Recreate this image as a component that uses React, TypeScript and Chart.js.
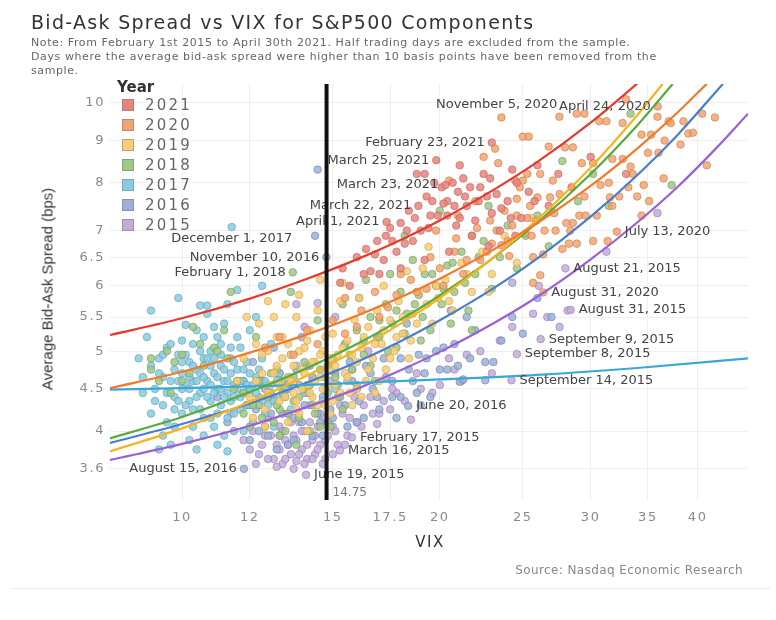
import React, { useEffect, useRef } from 'react';
import { Chart, registerables } from 'chart.js';

Chart.register(...registerables);

// Años en el orden de la leyenda
const years = ['2021', '2020', '2019', '2018', '2017', '2016', '2015'];
const pointColors = [
  'rgba(232,132,124,0.85)',
  'rgba(242,164,112,0.85)',
  'rgba(249,205,118,0.85)',
  'rgba(160,200,134,0.85)',
  'rgba(137,204,225,0.85)',
  'rgba(156,177,215,0.85)',
  'rgba(195,173,221,0.85)',
];
const pointBorders = [
  'rgba(190,95,88,0.75)',
  'rgba(200,120,70,0.75)',
  'rgba(205,160,70,0.75)',
  'rgba(110,150,90,0.75)',
  'rgba(90,155,180,0.75)',
  'rgba(105,125,170,0.75)',
  'rgba(145,120,175,0.75)',
];
const swatchColors = ['#e8847c', '#f2a470', '#f9cd76', '#a0c886', '#89cce1', '#9cb1d7', '#c3addd'];
const lineColors = ['#e43b2f', '#f27a2b', '#f7b41f', '#58aa3a', '#3aa8d6', '#4a7dcc', '#9b5fd6'];

const xTicks = [10, 12, 15, 17.5, 20, 25, 30, 35, 40];
const yTicks = [3.6, 4, 4.5, 5, 5.5, 6, 6.5, 7, 8, 9, 10];

// VIX, spread (bps)
const pts2021 = [
  [15.3, 6.05], [15.4, 6.3], [15.7, 6.0], [16.0, 6.5], [16.3, 6.2], [16.4, 6.65], [16.6, 6.25], [16.9, 6.8],
  [17.0, 6.2], [17.2, 6.45], [17.33, 7.17], [17.3, 6.9], [17.5, 7.05], [17.8, 6.6], [18.0, 7.15], [18.2, 6.75],
  [18.4, 7.4], [18.6, 6.8], [18.8, 8.2], [18.88, 7.5], [19.0, 7.0], [19.2, 8.2], [19.3, 7.7], [19.5, 7.3],
  [19.6, 7.6], [19.81, 8.52], [19.9, 7.3], [20.1, 7.9], [20.3, 7.95], [20.4, 7.6], [20.4, 7.3], [20.7, 8.0],
  [20.8, 7.5], [21.0, 7.8], [21.1, 7.25], [21.3, 8.1], [21.5, 7.5], [21.7, 7.9], [22.0, 7.2], [22.2, 7.6],
  [22.5, 8.2], [22.7, 7.7], [23.0, 8.95], [23.0, 7.35], [23.3, 7.75], [23.5, 7.0], [24.0, 7.6], [24.2, 7.25],
  [24.6, 8.0], [24.9, 7.25], [25.4, 7.8], [26.0, 8.4], [26.8, 7.5], [27.5, 8.2], [28.5, 7.9], [30.0, 8.6],
  [33.0, 8.2], [21.8, 6.9], [20.5, 6.6], [19.2, 6.45], [18.0, 6.3], [22.8, 6.7], [24.5, 6.9],
  [16.8, 6.55], [17.6, 6.8], [18.3, 7.0], [18.7, 7.25], [19.4, 7.05], [19.7, 8.0], [20.2, 7.55], [20.9, 7.1],
  [21.4, 7.7], [22.3, 7.9], [23.6, 7.45], [24.3, 8.3], [25.8, 7.6], [22.9, 8.1], [21.1, 8.4],
];
const pts2020 = [
  [12.5, 5.05], [13.0, 5.2], [13.5, 4.95], [14.0, 5.3], [14.4, 5.1], [15.0, 5.45], [15.5, 5.25], [16.2, 5.6],
  [17.0, 5.5], [17.8, 5.85], [18.5, 6.1], [19.3, 5.95], [20.0, 6.3], [20.5, 8.05], [20.8, 6.6], [21.3, 6.2],
  [21.8, 6.9], [22.3, 6.45], [22.5, 8.6], [22.9, 7.2], [23.0, 6.75], [23.2, 8.8], [23.4, 8.45], [23.6, 9.6],
  [23.6, 6.72], [23.8, 7.4], [24.1, 6.52], [24.3, 7.1], [24.5, 8.05], [24.6, 7.65], [25.0, 9.1], [25.0, 8.05],
  [25.2, 6.95], [25.3, 7.25], [25.3, 8.2], [25.4, 9.1], [25.6, 6.9], [25.7, 6.5], [25.7, 6.05], [25.9, 7.2],
  [26.0, 7.68], [26.2, 8.2], [26.2, 6.18], [26.41, 5.89], [26.4, 6.55], [26.8, 8.85], [26.9, 7.68], [27.1, 8.05],
  [27.3, 7.0], [27.58, 9.62], [27.8, 6.65], [28.0, 8.83], [28.1, 7.15], [28.3, 6.75], [28.6, 8.83], [28.6, 7.15],
  [28.9, 9.7], [28.9, 6.75], [29.1, 7.3], [29.3, 8.45], [29.5, 9.7], [29.6, 7.3], [30.2, 8.45], [30.2, 6.8],
  [30.7, 9.5], [31.3, 9.5], [31.4, 6.8], [31.6, 7.68], [31.8, 7.5], [31.8, 8.55], [32.19, 6.98], [32.4, 7.7],
  [32.7, 9.45], [32.7, 8.55], [33.4, 8.37], [33.6, 8.2], [34.0, 7.7], [34.4, 9.15], [34.4, 7.3], [34.6, 7.95],
  [35.0, 8.7], [35.1, 7.6], [35.3, 9.15], [35.93, 9.9], [35.9, 9.62], [36.0, 8.7], [37.0, 9.5], [37.2, 9.45],
  [39.0, 9.18], [39.5, 9.2], [40.5, 9.7], [41.0, 8.4], [41.9, 9.6], [22.0, 7.6], [21.0, 7.3], [19.8, 7.0],
  [30.8, 7.95], [27.6, 7.75], [24.8, 7.9], [33.0, 10.1], [38.2, 8.9], [36.5, 8.1],
  [15.5, 5.8], [16.0, 5.35], [16.8, 5.9], [17.4, 5.65], [18.0, 6.2], [18.8, 5.9], [19.5, 6.5], [20.2, 6.0],
  [20.9, 6.85], [21.5, 6.45], [22.1, 7.05], [22.7, 6.6], [23.3, 7.0], [24.0, 6.8], [24.6, 7.3], [25.5, 7.5],
  [26.5, 7.0], [27.2, 7.35], [28.4, 7.0], [29.5, 7.7], [30.5, 7.3], [31.5, 8.0], [33.2, 7.9], [36.6, 9.0],
  [38.5, 9.5],
];
const pts2019 = [
  [11.6, 4.6], [11.8, 4.9], [12.0, 4.4], [12.2, 5.1], [12.3, 5.4], [12.4, 4.7], [12.5, 4.25], [12.6, 5.0],
  [12.7, 4.55], [12.8, 5.5], [12.9, 4.8], [13.0, 4.35], [13.1, 5.2], [13.2, 5.7], [13.3, 4.65], [13.4, 4.95],
  [13.5, 4.45], [13.6, 5.5], [13.7, 4.2], [13.8, 4.75], [13.9, 5.05], [14.0, 4.55], [14.1, 5.3], [14.2, 4.4],
  [14.3, 4.85], [14.4, 5.6], [14.5, 4.65], [14.6, 5.0], [14.7, 4.3], [14.8, 4.75], [15.0, 5.25], [15.1, 4.55],
  [15.2, 4.95], [15.4, 6.05], [15.5, 4.7], [15.6, 5.15], [15.7, 4.45], [15.9, 5.46], [16.0, 4.85], [16.2, 5.05],
  [16.4, 4.6], [16.5, 5.35], [16.7, 4.9], [16.9, 5.6], [17.1, 5.1], [17.3, 4.75], [17.5, 5.45], [17.7, 5.0],
  [17.9, 5.75], [18.1, 5.25], [18.4, 4.9], [18.6, 5.55], [18.9, 5.9], [19.1, 6.3], [19.4, 6.69], [19.6, 5.4],
  [19.9, 5.8], [20.3, 6.1], [20.7, 5.6], [21.2, 6.4], [21.8, 5.9], [22.4, 6.6], [23.0, 6.2], [23.8, 6.9],
  [24.6, 6.4], [25.6, 7.25], [13.3, 4.1], [14.0, 4.0], [14.9, 4.2], [15.8, 4.3], [16.8, 4.45], [12.1, 4.15],
  [11.9, 5.5], [15.3, 5.75], [16.1, 5.8], [17.2, 6.0], [18.3, 6.25], [13.7, 5.85], [12.6, 5.75], [14.5, 6.1],
  [12.2, 4.6], [12.4, 4.95], [12.6, 4.45], [12.8, 4.7], [12.9, 5.2], [13.0, 4.55], [13.1, 4.9], [13.2, 4.4],
  [13.3, 5.1], [13.4, 4.6], [13.5, 4.8], [13.6, 4.35], [13.7, 5.0], [13.8, 4.5], [13.9, 4.7], [14.0, 5.15],
  [14.1, 4.45], [14.2, 4.85], [14.3, 4.6], [14.4, 4.3], [14.5, 4.95], [14.6, 4.5], [14.7, 5.2], [14.8, 4.55],
  [14.9, 4.9], [15.1, 4.8], [15.3, 4.45], [15.4, 5.05], [15.6, 4.65], [15.8, 4.95], [16.0, 4.5], [16.3, 5.2],
  [16.5, 4.75], [16.8, 5.1], [17.0, 4.6], [17.2, 5.3], [17.5, 4.9], [17.8, 5.2], [18.1, 5.5], [18.5, 5.15],
  [18.8, 5.4], [19.3, 5.7], [16.2, 4.4], [15.0, 4.35], [13.6, 4.25], [12.5, 4.05], [19.8, 6.0], [20.5, 5.75],
  [21.5, 6.2], [22.8, 5.9],
];
const pts2018 = [
  [9.2, 4.75], [9.2, 4.9], [9.4, 4.6], [9.6, 5.0], [9.8, 4.85], [10.0, 4.95], [10.2, 4.7], [10.5, 5.1],
  [10.9, 5.05], [11.0, 5.0], [11.2, 5.3], [11.4, 5.9], [11.6, 4.6], [11.8, 4.2], [12.0, 4.05], [12.2, 5.2],
  [12.3, 4.3], [12.4, 4.15], [12.6, 4.4], [12.8, 4.1], [13.0, 4.25], [13.1, 4.6], [13.2, 4.0], [13.4, 5.9],
  [13.47, 6.23], [13.5, 4.35], [13.7, 4.15], [13.9, 4.5], [14.0, 4.8], [14.2, 4.3], [14.4, 5.45], [14.5, 4.05],
  [14.7, 4.65], [15.0, 4.9], [15.2, 4.4], [15.5, 5.1], [15.8, 4.75], [16.0, 5.3], [16.3, 4.95], [16.6, 5.5],
  [17.0, 5.2], [17.3, 5.7], [17.6, 5.4], [18.0, 5.9], [18.3, 5.55], [18.6, 6.45], [18.9, 5.85], [19.2, 6.2],
  [19.5, 5.3], [19.8, 6.0], [20.1, 5.7], [20.4, 6.35], [20.8, 5.9], [21.2, 6.6], [21.6, 5.6], [22.0, 6.2],
  [22.5, 6.8], [23.0, 5.95], [23.5, 6.5], [24.0, 7.1], [24.6, 6.3], [25.2, 6.9], [26.0, 7.3], [26.8, 6.7],
  [27.8, 8.5], [29.0, 7.6], [30.2, 8.2], [31.5, 7.5], [33.4, 9.7], [37.3, 7.95], [16.8, 4.6], [17.8, 5.05],
  [19.0, 5.15], [20.6, 5.4], [21.8, 5.3], [15.4, 5.7], [16.4, 6.1], [18.2, 6.9], [20.0, 7.4], [22.8, 7.5],
  [12.9, 4.75], [14.1, 4.0], [13.6, 3.85], [11.3, 4.9], [10.3, 5.35],
  [11.5, 4.5], [11.8, 4.45], [12.1, 4.3], [12.3, 4.6], [12.5, 4.05], [12.7, 4.7], [12.9, 4.3], [13.1, 4.45],
  [13.3, 4.2], [13.5, 4.65], [13.7, 4.4], [13.9, 4.85], [14.1, 4.55], [14.3, 4.2], [14.5, 4.75], [14.8, 4.45],
  [15.1, 4.65], [15.4, 4.25], [15.7, 4.95], [16.0, 4.55], [16.3, 5.15], [16.6, 4.8], [17.0, 5.45], [17.4, 5.0],
  [17.8, 5.6], [18.2, 5.25], [18.7, 5.7], [19.1, 5.5], [19.6, 6.2], [20.2, 5.95], [20.7, 6.4], [21.4, 6.05],
  [22.2, 6.5], [10.6, 4.8], [10.0, 4.6], [9.7, 4.45], [13.0, 3.95], [14.9, 4.05], [16.1, 5.8], [17.5, 6.2],
];
const pts2017 = [
  [9.1, 5.2], [9.2, 4.8], [9.3, 4.5], [9.4, 4.9], [9.5, 4.3], [9.6, 5.05], [9.7, 4.6], [9.8, 4.4],
  [9.9, 5.8], [9.9, 4.95], [10.0, 4.7], [10.0, 4.2], [10.1, 5.38], [10.1, 4.55], [10.2, 4.85], [10.2, 4.35],
  [10.3, 5.1], [10.3, 4.6], [10.4, 5.3], [10.4, 4.75], [10.4, 3.8], [10.5, 4.45], [10.5, 5.68], [10.6, 4.9],
  [10.6, 4.15], [10.7, 4.6], [10.7, 5.68], [10.8, 4.35], [10.8, 5.0], [10.9, 4.7], [10.9, 4.05], [11.0, 4.5],
  [11.0, 5.2], [11.1, 4.8], [11.1, 4.3], [11.2, 4.6], [11.2, 3.95], [11.3, 5.7], [11.3, 4.45], [11.3, 3.78],
  [11.4, 4.9], [11.43, 7.07], [11.5, 4.55], [11.5, 4.2], [11.6, 5.93], [11.6, 4.75], [11.7, 4.4], [11.7, 5.05],
  [11.8, 4.6], [11.9, 4.3], [11.9, 4.85], [12.0, 4.5], [12.0, 5.3], [12.1, 4.1], [12.2, 4.65], [12.3, 4.4],
  [12.4, 4.9], [12.5, 4.2], [12.6, 4.55], [12.7, 5.1], [12.8, 4.35], [13.0, 4.7], [13.2, 4.5], [13.4, 4.25],
  [13.6, 4.8], [13.9, 4.45], [14.2, 4.6], [14.6, 4.35], [15.1, 4.5], [15.6, 4.6], [9.4, 3.8], [9.7, 3.85],
  [10.2, 3.9], [9.6, 4.1], [9.9, 4.35], [10.3, 4.25], [9.5, 4.65], [9.8, 4.75], [10.0, 5.15], [10.5, 5.0],
  [10.9, 5.35], [11.2, 5.4], [11.6, 5.2], [10.6, 4.5], [11.4, 4.35], [10.8, 4.8], [11.1, 4.95], [10.0, 4.5],
  [10.4, 4.4], [9.2, 5.6], [10.7, 5.55], [12.2, 5.5], [12.4, 6.0], [10.2, 4.65], [11.8, 4.0], [12.8, 4.05],
  [9.0, 4.45], [8.9, 4.9],
  [9.3, 4.35], [9.4, 4.7], [9.5, 4.95], [9.6, 4.45], [9.7, 5.1], [9.8, 4.25], [9.9, 4.6], [10.0, 4.85],
  [10.1, 4.3], [10.1, 4.95], [10.2, 4.5], [10.3, 4.8], [10.3, 4.05], [10.4, 4.6], [10.5, 4.25], [10.5, 4.7],
  [10.6, 4.65], [10.6, 5.2], [10.7, 4.4], [10.7, 4.9], [10.8, 4.55], [10.8, 4.15], [10.9, 4.45], [10.9, 4.9],
  [11.0, 4.65], [11.0, 4.2], [11.1, 4.5], [11.1, 5.1], [11.2, 4.75], [11.2, 4.4], [11.3, 4.6], [11.3, 4.15],
  [11.4, 4.7], [11.4, 5.05], [11.5, 4.4], [11.5, 4.85], [11.6, 4.5], [11.7, 4.6], [11.7, 4.25], [11.8, 4.75],
  [11.8, 4.45], [11.9, 4.55], [12.0, 4.7], [12.0, 4.3], [12.1, 4.55], [12.2, 4.45], [12.3, 4.75], [12.4, 4.35],
  [12.5, 4.6], [12.6, 4.3], [12.7, 4.45], [12.9, 4.6], [13.1, 4.4], [13.3, 4.65], [9.0, 4.65], [9.2, 4.2],
  [9.5, 3.95], [9.8, 4.05], [10.6, 3.95], [11.0, 3.85],
];
const pts2016 = [
  [11.0, 4.4], [11.3, 4.1], [11.6, 4.6], [11.81, 3.6], [11.9, 4.3], [12.1, 4.85], [12.3, 4.0], [12.5, 4.5],
  [12.7, 4.2], [12.9, 4.7], [13.0, 3.95], [13.2, 4.4], [13.4, 4.95], [13.5, 4.15], [13.7, 4.55], [13.9, 4.3],
  [14.1, 4.8], [14.3, 6.9], [14.4, 8.3], [14.74, 6.5], [14.5, 4.1], [14.7, 4.5], [14.9, 4.25], [15.1, 4.7],
  [15.3, 4.4], [15.6, 4.05], [15.8, 4.6], [16.1, 4.35], [16.4, 4.8], [16.7, 4.5], [17.0, 4.25], [17.3, 4.65],
  [17.6, 4.4], [18.0, 4.9], [18.37, 4.29], [18.6, 4.6], [18.9, 4.95], [19.2, 4.7], [19.5, 4.4], [19.8, 5.0],
  [20.0, 4.75], [20.4, 4.75], [20.8, 5.1], [21.1, 4.59], [21.3, 4.62], [21.7, 4.9], [22.0, 5.3], [22.6, 4.61],
  [22.6, 4.85], [23.1, 4.85], [23.6, 5.15], [24.3, 5.5], [25.0, 5.25], [26.0, 5.8], [27.0, 5.5], [12.0, 3.9],
  [13.3, 3.85], [14.2, 3.95], [16.0, 4.1], [17.8, 4.15], [19.0, 4.3], [15.5, 5.1], [16.9, 5.2], [18.3, 5.4],
  [13.8, 5.2], [12.8, 5.05], [20.6, 5.6], [21.5, 5.5],
  [12.2, 4.25], [12.4, 4.6], [12.6, 3.95], [12.8, 4.4], [13.0, 4.7], [13.1, 4.2], [13.3, 4.5], [13.5, 3.9],
  [13.6, 4.75], [13.8, 4.1], [14.0, 4.45], [14.2, 4.65], [14.4, 4.2], [14.6, 4.4], [14.8, 4.8], [15.0, 4.15],
  [15.2, 4.55], [15.5, 4.3], [15.7, 4.85], [16.0, 4.5], [16.3, 4.15], [16.6, 4.7], [16.9, 4.4], [17.2, 4.9],
  [17.6, 4.6], [18.0, 4.4], [18.4, 4.75], [18.8, 4.45], [19.3, 4.9], [20.2, 5.05], [21.0, 4.8], [11.5, 4.0],
  [11.8, 4.6], [12.9, 3.8], [14.6, 3.95],
];
const pts2015 = [
  [11.4, 4.2], [11.8, 3.9], [12.1, 4.0], [12.3, 3.75], [12.5, 3.95], [12.6, 4.15], [12.8, 3.7], [12.9, 3.85],
  [13.0, 4.05], [13.1, 3.65], [13.2, 3.9], [13.3, 4.2], [13.4, 3.75], [13.5, 3.95], [13.6, 3.68], [13.6, 5.7],
  [13.7, 4.1], [13.8, 3.8], [13.9, 4.0], [13.96, 3.54], [14.0, 3.7], [14.1, 4.3], [14.2, 3.9], [14.3, 3.75],
  [14.4, 4.05], [14.4, 5.72], [14.5, 3.85], [14.6, 4.15], [14.7, 3.7], [14.8, 3.95], [15.0, 4.05], [15.2, 3.85],
  [15.29, 3.79], [15.4, 4.2], [15.6, 3.95], [15.79, 3.93], [16.0, 4.1], [16.3, 4.3], [16.7, 4.2], [16.9, 4.08],
  [17.2, 4.35], [17.5, 4.25], [17.8, 4.45], [18.5, 4.13], [19.0, 4.5], [20.0, 4.55], [20.8, 4.75], [21.5, 4.95],
  [22.3, 5.0], [23.0, 4.7], [23.5, 5.15], [24.25, 4.61], [24.3, 5.35], [24.3, 6.05], [24.6, 4.96], [25.7, 5.55],
  [26.1, 6.0], [26.23, 5.17], [26.7, 5.5], [27.6, 5.35], [28.03, 6.3], [28.2, 5.6], [28.43, 5.61], [31.3, 6.6],
  [35.9, 7.35], [12.0, 4.45], [12.7, 4.4], [13.3, 4.55], [14.9, 4.6], [15.8, 4.75], [16.5, 5.0], [13.9, 5.35],
  [15.1, 5.5],
  [12.0, 3.8], [12.2, 3.65], [12.4, 3.85], [12.6, 3.7], [12.7, 3.95], [12.9, 3.62], [13.0, 3.8], [13.1, 4.0],
  [13.2, 3.7], [13.3, 3.85], [13.4, 4.1], [13.5, 3.6], [13.6, 3.9], [13.7, 3.75], [13.8, 4.0], [13.9, 3.65],
  [14.0, 3.85], [14.1, 4.1], [14.2, 3.7], [14.3, 3.95], [14.4, 3.8], [14.5, 4.2], [14.6, 3.65], [14.7, 3.9],
  [14.8, 4.1], [15.0, 3.75], [15.1, 4.0], [15.3, 4.3], [15.5, 3.85], [15.7, 4.15], [15.9, 4.4], [16.2, 4.05],
  [16.6, 4.4], [17.0, 4.2], [17.6, 4.5], [18.2, 4.35], [18.8, 4.7], [19.6, 4.45], [20.5, 4.9], [21.2, 4.6],
];

// Líneas de tendencia
const trend2021 = [[8.24, 5.23], [10, 5.48], [12, 5.79], [14, 6.12], [16, 6.46], [18, 6.82], [20, 7.2], [23, 7.82], [26, 8.48], [30, 9.46], [34, 10.55]];
const trend2020 = [[8.24, 4.51], [10, 4.72], [12, 4.98], [14, 5.24], [16, 5.52], [18, 5.81], [20, 6.12], [23, 6.62], [26, 7.15], [30, 7.93], [34, 8.8], [38, 9.76], [41, 10.55]];
const trend2019 = [[8.24, 3.78], [10, 4.03], [12, 4.34], [14, 4.67], [16, 5.02], [18, 5.4], [20, 5.8], [23, 6.47], [26, 7.22], [30, 8.35], [34, 9.66], [36.4, 10.54]];
const trend2018 = [[8.24, 3.92], [10, 4.16], [12, 4.46], [14, 4.77], [16, 5.1], [18, 5.46], [20, 5.84], [23, 6.47], [26, 7.16], [30, 8.2], [34, 9.39], [37.4, 10.54]];
const trend2017 = [[8.24, 4.49], [10, 4.51], [14, 4.55], [20, 4.62], [26, 4.68], [34, 4.77], [45.8, 4.9]];
const trend2016 = [[8.24, 3.87], [10, 4.08], [12, 4.32], [14, 4.58], [16, 4.85], [18, 5.14], [20, 5.45], [23, 5.94], [26, 6.48], [30, 7.28], [34, 8.17], [38, 9.17], [42.8, 10.54]];
const trend2015 = [[8.24, 3.69], [10, 3.86], [12, 4.06], [14, 4.28], [16, 4.5], [18, 4.74], [20, 4.99], [23, 5.39], [26, 5.82], [30, 6.46], [34, 7.16], [38, 7.93], [42, 8.8], [45.8, 9.7]];

const markerVix = 14.75;
const markerLabel = '14.75';

const noteDates = [
  'November 5, 2020', 'April 24, 2020', 'February 23, 2021', 'March 25, 2021', 'March 23, 2021', 'March 22, 2021',
  'April 1, 2021', 'December 1, 2017', 'November 10, 2016', 'February 1, 2018', 'August 15, 2016', 'June 19, 2015',
  'March 16, 2015', 'February 17, 2015', 'June 20, 2016', 'September 14, 2015', 'September 8, 2015',
  'September 9, 2015', 'August 31, 2015', 'August 31, 2020', 'August 21, 2015', 'July 13, 2020',
];
const noteVix = [27.58, 35.93, 23.0, 19.81, 20.3, 18.88, 17.33, 11.43, 14.74, 13.47, 11.81, 13.96, 15.29, 15.79, 18.37, 24.25, 24.6, 26.23, 28.43, 26.41, 28.03, 32.19];
const noteSpread = [9.62, 9.9, 8.95, 8.52, 7.95, 7.5, 7.17, 7.07, 6.5, 6.23, 3.6, 3.54, 3.79, 3.93, 4.29, 4.61, 4.96, 5.17, 5.61, 5.89, 6.3, 6.98];
const noteSide = ['lu', 'l', 'l', 'l', 'l', 'l', 'l', 'b', 'l', 'l', 'l', 'r', 'r', 'r', 'r', 'r', 'r', 'r', 'r', 'r', 'r', 'r'];

const yearPoints = [pts2021, pts2020, pts2019, pts2018, pts2017, pts2016, pts2015];
const yearTrends = [trend2021, trend2020, trend2019, trend2018, trend2017, trend2016, trend2015];

const FONT = "'DejaVu Sans', sans-serif";

const overlayPlugin = {
  id: 'overlay',
  beforeDraw(chart: any) {
    chart.ctx.letterSpacing = '1.6px';
  },
  afterDatasetsDraw(chart: any) {
    const { ctx, chartArea, scales } = chart;
    ctx.save();
    ctx.letterSpacing = '0px';
    ctx.font = `13px ${FONT}`;
    ctx.fillStyle = '#444';
    ctx.textBaseline = 'middle';
    noteDates.forEach((d, i) => {
      const px = scales.x.getPixelForValue(noteVix[i]);
      const py = scales.y.getPixelForValue(noteSpread[i]);
      const side = noteSide[i];
      if (side === 'r') {
        ctx.textAlign = 'left';
        ctx.fillText(d, px + 8, py);
      } else if (side === 'l') {
        ctx.textAlign = 'right';
        ctx.fillText(d, px - 7, py);
      } else if (side === 'b') {
        ctx.textAlign = 'center';
        ctx.fillText(d, px, py + 12);
      } else {
        ctx.textAlign = 'right';
        ctx.fillText(d, px - 2, py - 12);
      }
    });
    // línea vertical en VIX = 14.75
    const vx = scales.x.getPixelForValue(markerVix);
    ctx.strokeStyle = '#111';
    ctx.lineWidth = 4;
    ctx.beginPath();
    ctx.moveTo(vx, chartArea.top);
    ctx.lineTo(vx, chartArea.bottom);
    ctx.stroke();
    ctx.font = `12px ${FONT}`;
    ctx.fillStyle = '#777';
    ctx.textAlign = 'left';
    ctx.fillText(markerLabel, vx + 6, chartArea.bottom - 7);
    ctx.restore();
  },
};

export default function App() {
  const canvasRef = useRef<HTMLCanvasElement>(null);
  const chartRef = useRef<Chart | null>(null);

  useEffect(() => {
    if (!canvasRef.current) return;
    const scatterSets = years.map((year, i) => ({
      type: 'scatter' as const,
      label: year,
      data: yearPoints[i].map(([x, y]) => ({ x, y })),
      backgroundColor: pointColors[i],
      borderColor: pointBorders[i],
      borderWidth: 0.8,
      pointRadius: 3.8,
      order: 10 + i,
    }));
    const lineSets = years.map((year, i) => ({
      type: 'line' as const,
      label: year + ' trend',
      data: yearTrends[i].map(([x, y]) => ({ x, y })),
      borderColor: lineColors[i],
      backgroundColor: lineColors[i],
      borderWidth: 2.2,
      pointRadius: 0,
      fill: false,
      cubicInterpolationMode: 'monotone' as const,
      order: 1,
    }));

    chartRef.current = new Chart(canvasRef.current, {
      type: 'scatter',
      data: { datasets: [...lineSets, ...scatterSets] as any },
      options: {
        responsive: true,
        maintainAspectRatio: false,
        animation: false,
        layout: { padding: { left: 0, right: 28, top: 84, bottom: 0 } },
        plugins: { legend: { display: false }, tooltip: { enabled: false } },
        scales: {
          x: {
            type: 'logarithmic',
            min: 8.24,
            max: 45.8,
            afterBuildTicks: (axis: any) => { axis.ticks = xTicks.map(v => ({ value: v })); },
            afterFit: (s: any) => { s.height = 120; },
            grid: { color: '#efefef', drawTicks: false },
            border: { display: false },
            ticks: {
              callback: (v: any) => String(v),
              color: '#8a8a8a',
              font: { family: FONT, size: 13 },
              padding: 10,
              autoSkip: false,
              maxRotation: 0,
            },
          },
          y: {
            type: 'logarithmic',
            min: 3.33,
            max: 10.54,
            afterBuildTicks: (axis: any) => { axis.ticks = yTicks.map(v => ({ value: v })); },
            afterFit: (s: any) => { s.width = 110; },
            grid: { color: '#efefef', drawTicks: false },
            border: { display: false },
            ticks: {
              callback: (v: any) => String(v),
              color: '#8a8a8a',
              font: { family: FONT, size: 13 },
              padding: 5,
              autoSkip: false,
            },
          },
        },
      },
      plugins: [overlayPlugin],
    });

    return () => {
      if (chartRef.current) {
        chartRef.current.destroy();
        chartRef.current = null;
      }
    };
  }, []);

  return (
    <div style={{ position: 'absolute', left: 0, top: 0, width: 776, height: 620, background: '#fff', fontFamily: FONT, overflow: 'hidden' }}>
      <div style={{ position: 'absolute', left: 0, top: 0, width: 776, height: 620 }}>
        <canvas ref={canvasRef}></canvas>
      </div>
      <div style={{ position: 'absolute', left: 31, top: 11, fontSize: 19, letterSpacing: 1.3, color: '#333', whiteSpace: 'nowrap' }}>
        Bid-Ask Spread vs VIX for S&amp;P500 Components
      </div>
      <div style={{ position: 'absolute', left: 31, top: 36, fontSize: 11, lineHeight: '14px', letterSpacing: 0.6, color: '#666', whiteSpace: 'nowrap' }}>
        Note: From February 1st 2015 to April 30th 2021. Half trading days are excluded from the sample.<br />
        Days where the average bid-ask spread were higher than 10 basis points have been removed from the<br />
        sample.
      </div>
      <div style={{ position: 'absolute', left: 117, top: 78, fontSize: 15, fontWeight: 'bold', color: '#333' }}>Year</div>
      {years.map((year, i) => (
        <div key={year} style={{ position: 'absolute', left: 122, top: 96 + i * 20, height: 18, display: 'flex', alignItems: 'center' }}>
          <span style={{ display: 'inline-block', width: 12, height: 12, background: swatchColors[i], border: '1px solid rgba(120,120,120,0.5)', boxSizing: 'border-box' }}></span>
          <span style={{ marginLeft: 11, fontSize: 15, letterSpacing: 2.2, color: '#666' }}>{year}</span>
        </div>
      ))}
      <div style={{ position: 'absolute', left: 47, top: 289, transform: 'translate(-50%, -50%) rotate(-90deg)', whiteSpace: 'nowrap', fontFamily: "'Liberation Sans', sans-serif", fontSize: 15, color: '#333' }}>
        Average Bid-Ask Spread (bps)
      </div>
      <div style={{ position: 'absolute', left: 430, top: 542, transform: 'translate(-50%, -50%)', fontSize: 15, letterSpacing: 1.5, color: '#333' }}>
        VIX
      </div>
      <div style={{ position: 'absolute', right: 33, top: 563, fontSize: 12, letterSpacing: 0.4, color: '#888', whiteSpace: 'nowrap' }}>
        Source: Nasdaq Economic Research
      </div>
      <div style={{ position: 'absolute', left: 10, top: 588, width: 760, height: 1, background: '#ececec' }}></div>
    </div>
  );
}
